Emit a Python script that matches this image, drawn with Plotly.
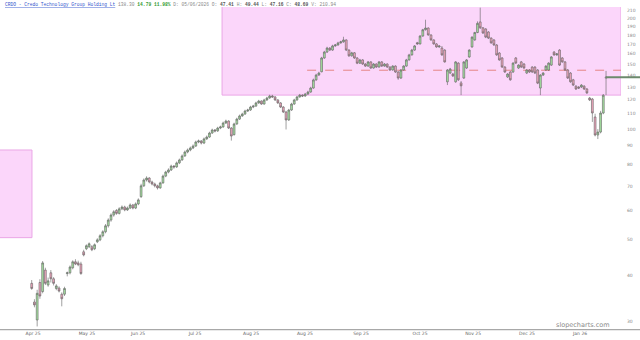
import math
import plotly.graph_objects as go

# ---------------- data ----------------
opens = [38.1,33.9,30.3,38.3,36.2,41.4,37.7,40.7,39.2,36.9,37.0,35.6,35.6,40.5,40.7,42.0,43.6,43.3,43.0,46.4,
 47.3,47.9,47.9,47.3,49.4,50.0,51.3,52.6,54.6,56.6,58.4,60.1,59.0,60.7,61.4,60.3,61.0,62.2,61.0,62.6,
 65.5,70.1,72.7,73.6,71.8,70.9,70.1,69.2,71.4,74.5,76.4,77.4,79.3,78.9,80.9,82.4,84.5,86.6,87.7,88.8,
 89.9,92.2,92.8,91.6,94.0,95.1,97.5,99.4,98.8,100.6,101.3,103.8,105.1,100.6,96.5,103.2,106.4,108.5,109.8,111.9,
 112.6,114.7,115.4,117.7,119.1,116.9,119.9,121.4,122.9,122.2,119.9,117.7,114.7,111.2,105.8,112.6,116.9,119.9,122.2,123.6,
 122.9,124.4,126.0,129.2,135.9,140.1,143.0,155.9,161.8,165.9,163.8,168.1,169.1,171.3,172.4,174.5,163.8,158.0,161.0,155.9,
 150.9,154.0,150.1,148.2,152.1,146.4,150.1,147.3,152.1,148.2,150.1,147.3,144.6,148.2,142.8,137.5,144.6,148.2,154.0,158.9,
 163.8,171.5,170.2,178.8,186.0,188.0,180.0,174.5,170.2,167.0,165.9,163.8,134.3,141.9,141.0,134.3,151.0,133.4,137.5,146.4,
 156.9,167.0,174.5,182.8,195.3,188.2,186.9,183.4,176.5,174.5,169.1,160.8,155.9,147.3,138.4,142.8,142.8,155.9,146.4,152.1,
 150.1,141.9,144.6,147.3,147.3,144.6,129.2,140.1,144.6,144.6,149.1,161.8,158.9,163.8,155.9,152.1,144.6,141.9,136.0,130.7,
 130.0,130.0,130.7,128.4,121.4,120.6,107.8,96.3,98.1,110.5,137.4]
highs = [38.9,34.5,36.6,39.1,43.8,42.0,39.5,41.4,39.6,37.9,37.4,36.0,37.3,41.0,42.6,44.0,44.3,43.9,43.6,47.0,
 48.6,49.2,48.4,48.9,50.5,51.8,53.1,55.2,57.2,59.0,60.2,60.6,61.3,62.0,61.9,61.6,62.8,62.6,63.2,64.8,
 71.0,73.4,74.4,74.0,72.4,71.5,70.6,71.9,75.2,77.0,78.2,80.0,79.8,81.6,83.1,85.3,87.4,88.5,89.6,90.8,
 93.0,93.6,93.3,94.8,96.0,98.3,100.2,100.0,101.4,102.1,104.7,106.0,105.6,101.2,104.0,107.3,109.4,110.7,112.8,113.5,
 115.6,116.3,118.6,120.0,119.6,120.8,122.3,123.9,123.8,122.8,120.5,118.3,115.4,112.0,113.4,117.8,120.8,123.0,124.5,124.2,
 125.3,127.0,130.2,137.0,141.2,143.0,157.0,163.0,167.2,166.8,169.3,170.2,172.5,173.6,178.0,175.2,164.6,162.0,161.8,156.7,
 155.0,154.8,150.9,153.0,152.8,151.0,150.8,153.0,152.9,151.0,150.8,148.0,149.0,148.9,143.5,145.4,149.0,155.0,160.0,165.0,
 169.0,172.4,179.8,187.0,198.0,188.8,180.8,175.2,171.0,168.8,168.0,164.6,145.5,146.5,141.9,152.9,151.8,135.0,152.9,154.9,
 164.6,178.5,183.6,196.0,213.5,189.1,187.8,184.3,177.4,175.4,170.0,161.7,156.8,148.1,141.8,143.6,151.8,156.8,149.9,153.0,
 151.0,145.4,145.4,148.1,148.1,145.4,140.9,142.7,149.0,151.8,157.8,162.7,160.8,164.7,156.8,152.9,145.4,142.7,136.8,131.5,
 130.8,132.4,131.5,129.2,122.2,121.4,110.0,99.9,112.0,124.4,143.8]
lows = [36.6,32.8,29.1,34.6,35.8,37.7,37.3,38.3,37.6,36.5,36.0,33.0,35.2,39.8,40.3,41.6,42.7,42.4,40.2,45.1,
 46.9,47.5,46.6,46.9,49.0,49.6,50.8,52.1,54.0,56.0,57.8,58.5,58.6,60.2,59.8,59.9,60.6,60.5,60.6,62.1,
 65.0,69.6,72.0,71.2,70.3,69.4,68.5,68.8,71.0,74.0,75.8,76.9,78.0,78.4,80.3,82.0,84.0,85.9,87.0,88.2,
 89.4,91.5,90.8,91.0,93.4,94.6,97.0,97.9,98.2,99.9,100.8,103.2,100.0,93.0,96.0,102.6,105.8,107.9,109.2,111.2,
 112.0,113.9,114.9,117.0,116.3,116.4,119.2,120.8,121.5,119.2,117.0,114.0,110.5,99.7,105.2,112.0,116.3,119.3,121.6,122.1,
 122.3,123.8,125.4,128.6,135.2,139.4,142.5,155.0,160.8,162.8,163.0,167.2,168.3,170.4,171.5,162.8,157.0,157.2,155.0,150.0,
 150.2,149.3,147.4,147.5,145.6,145.8,146.5,146.8,147.4,147.6,146.5,143.8,144.0,142.0,136.0,136.8,144.0,147.6,153.4,158.3,
 163.0,169.4,169.6,178.0,185.0,179.2,173.6,169.4,166.2,166.2,158.0,151.4,131.6,141.0,138.5,133.5,135.0,123.6,136.8,145.6,
 156.0,166.2,173.6,182.0,186.9,181.2,176.5,175.5,170.4,168.2,158.0,153.2,146.5,142.0,137.6,135.2,142.0,150.2,145.6,146.5,
 145.6,141.0,142.0,142.0,141.0,132.4,123.6,139.3,143.8,143.8,148.3,158.0,158.0,148.3,151.3,143.8,136.7,133.5,130.8,127.6,
 128.4,129.2,127.6,124.5,119.1,104.5,95.5,93.9,97.3,109.7,123.6]
closes = [36.9,33.3,35.8,35.2,43.3,38.1,38.7,39.2,38.1,37.5,36.3,34.6,36.9,40.7,42.2,43.6,43.0,42.8,40.5,45.5,
 48.2,48.8,47.0,48.5,50.0,51.3,52.6,54.6,56.6,58.4,59.6,59.0,60.7,61.4,60.3,61.0,62.2,61.0,62.6,64.2,
 70.1,72.7,73.6,71.8,70.9,70.1,69.2,71.4,74.5,76.4,77.4,79.3,78.9,80.9,82.4,84.5,86.6,87.7,88.8,89.9,
 92.2,92.8,91.6,94.0,95.1,97.5,99.4,98.8,100.6,101.3,103.8,105.1,100.6,95.7,103.2,106.4,108.5,109.8,111.9,112.6,
 114.7,115.4,117.7,119.1,116.9,119.9,121.4,122.9,122.2,119.9,117.7,114.7,111.2,105.8,112.6,116.9,119.9,122.2,123.6,122.9,
 124.4,126.0,129.2,135.9,140.1,141.9,155.9,161.8,165.9,163.8,168.1,169.1,171.3,172.4,174.5,163.8,158.0,161.0,155.9,150.9,
 154.0,150.1,148.2,152.1,146.4,150.1,147.3,152.1,148.2,150.1,147.3,144.6,148.2,142.8,137.5,144.6,148.2,154.0,158.9,163.8,
 168.1,170.2,178.8,186.0,188.0,180.0,174.5,170.2,167.0,168.0,158.9,152.1,144.6,145.5,139.3,152.1,136.0,131.0,152.1,154.0,
 163.8,177.6,182.8,193.6,188.2,182.2,177.6,176.5,171.3,169.1,158.9,154.0,147.3,142.8,141.0,136.0,151.0,151.0,149.1,147.3,
 146.4,144.6,142.8,142.8,141.9,133.2,140.1,141.9,148.2,151.0,156.9,158.9,159.9,149.1,152.1,144.6,137.5,134.3,131.6,128.4,
 129.2,131.6,128.4,125.3,119.9,110.5,96.3,98.1,110.5,123.5,138.3]

tick_pos = [0.5, 20.2, 38.9, 59.7, 80.2, 99.9, 120.4, 142.0, 161.4, 181.1, 200.5]
tick_text = ["Apr 25", "May 25", "Jun 25", "Jul 25", "Aug 25", "Aug 25", "Sep 25", "Oct 25", "Nov 25", "Dec 25", "Jan 26"]
y_ticks = [30, 40, 50, 60, 70, 80, 90, 100, 110, 120, 130, 140, 150, 160, 170, 180, 190, 200, 210]

zone_upper = (69.6, 123.6)     # start index, lower price of upper zone
zone_left = (50.7, 87.7)       # price band of left zone
dash_level = (100.7, 144.4)    # start index, price
last_price = 138.3

n = len(closes)
idx = list(range(n))

X0, X1 = -11.59, 215.47
PMIN, PMAX = 28.64, 214.4

fig = go.Figure()
fig.add_trace(go.Candlestick(
    x=idx[:-1], open=opens[:-1], high=highs[:-1], low=lows[:-1], close=closes[:-1],
    increasing=dict(fillcolor="#a6e3a1", line=dict(color="#606060", width=0.6)),
    decreasing=dict(fillcolor="#f2a7be", line=dict(color="#606060", width=0.6)),
    whiskerwidth=0, showlegend=False, hoverinfo="skip"))
fig.add_trace(go.Candlestick(
    x=idx[-1:], open=opens[-1:], high=highs[-1:], low=lows[-1:], close=closes[-1:],
    increasing=dict(fillcolor="#ffffff", line=dict(color="#606060", width=0.6)),
    decreasing=dict(fillcolor="#ffffff", line=dict(color="#606060", width=0.6)),
    whiskerwidth=0, showlegend=False, hoverinfo="skip"))

shapes = [
    dict(type="rect", xref="x", yref="y", x0=zone_upper[0], x1=X1, y0=zone_upper[1], y1=PMAX * 1.05,
         fillcolor="#fbd6fa", line=dict(color="#eaa6e6", width=1), layer="below"),
    dict(type="rect", xref="x", yref="y", x0=X0 - 1, x1=0.1, y0=zone_left[0], y1=zone_left[1],
         fillcolor="#fbd6fa", line=dict(color="#eaa6e6", width=1), layer="below"),
    dict(type="line", xref="x", yref="y", x0=dash_level[0], x1=X1, y0=dash_level[1], y1=dash_level[1],
         line=dict(color="#e58585", width=1, dash="dash"), layer="below"),
    dict(type="line", xref="paper", yref="y", x0=(n - 1 - X0) / (X1 - X0), x1=640 / 621, y0=last_price, y1=last_price,
         line=dict(color="#6c8a6c", width=2)),
    dict(type="line", xref="paper", yref="paper", x0=0, x1=640 / 621, y0=-0.002, y1=-0.002,
         line=dict(color="#a8a8a8", width=1.2)),
]

title_html = ('<span style="color:#3355cc"><u>CRDO - Credo Technology Group Holding Lt</u></span> '
              '<span style="color:#888">138.30</span> '
              '<b><span style="color:#2f9a2f">14.79 11.98%</span></b> '
              '<span style="color:#888">D: 05/06/2026 O: </span><b>47.41</b>'
              '<span style="color:#888"> H: </span><b>49.44</b>'
              '<span style="color:#888"> L: </span><b>47.16</b>'
              '<span style="color:#888"> C: </span><b>48.69</b>'
              '<span style="color:#888"> V: 210.94</span>')

fig.update_layout(
    width=640, height=340,
    margin=dict(l=0, r=19, t=7, b=11),
    paper_bgcolor="white", plot_bgcolor="white",
    boxgap=0.05,
    shapes=shapes,
    xaxis=dict(range=[X0, X1], rangeslider=dict(visible=False), showgrid=False, zeroline=False,
               showline=False, tickmode="array", tickvals=tick_pos, ticktext=tick_text,
               tickfont=dict(size=4.5, color="#666", family="DejaVu Sans"), ticks=""),
    yaxis=dict(type="log", range=[math.log10(PMIN), math.log10(PMAX)], side="right", showgrid=False,
               zeroline=False, showline=False, ticklabelstandoff=5,
               tickmode="array", tickvals=y_ticks, ticktext=[str(v) for v in y_ticks],
               tickfont=dict(size=4.5, color="#888", family="DejaVu Sans"), ticks=""),
    annotations=[
        dict(text=title_html, xref="paper", yref="paper", x=3 / 621, y=(329 - 4.5) / 322,
             xanchor="left", yanchor="middle", showarrow=False,
             font=dict(size=4.6, family="Liberation Mono", color="#555")),
        dict(text="slopecharts.com", xref="paper", yref="paper", x=583 / 621, y=(329 - 325) / 322,
             xanchor="center", yanchor="middle", showarrow=False,
             font=dict(size=6.5, family="DejaVu Sans", color="#8a8a8a")),
    ],
)

fig.write_html("out.html")
